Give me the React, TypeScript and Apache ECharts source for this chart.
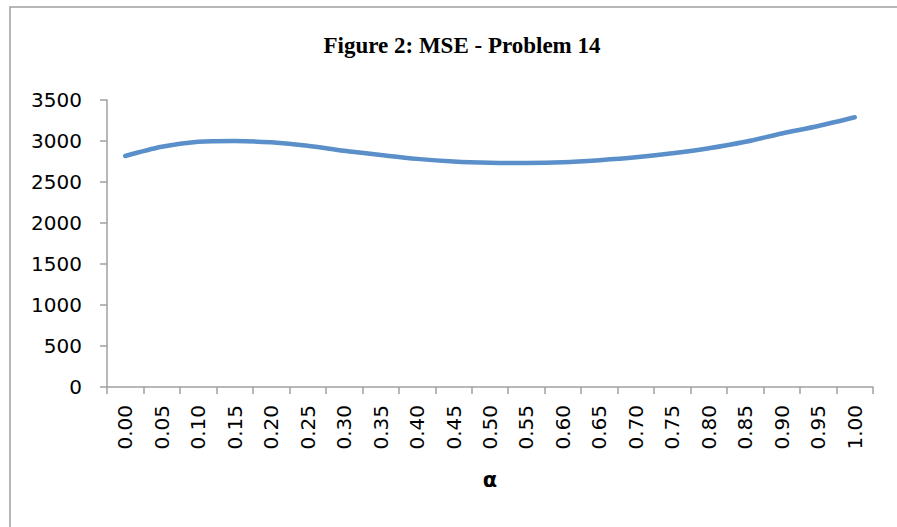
import React, { useEffect, useRef } from "react";
import * as echarts from "echarts";

const titleText = "Figure 2: MSE - Problem 14";
const xName = "α";
const categories = [
  "0.00", "0.05", "0.10", "0.15", "0.20", "0.25", "0.30", "0.35", "0.40", "0.45", "0.50",
  "0.55", "0.60", "0.65", "0.70", "0.75", "0.80", "0.85", "0.90", "0.95", "1.00",
];
const mseValues = [
  2817, 2930, 2990, 3000, 2984, 2943, 2880, 2829, 2782, 2750, 2735,
  2732, 2740, 2766, 2801, 2850, 2911, 2990, 3092, 3183, 3289,
];
const yTicks = { min: 0, max: 3500, interval: 500 };

export default function App() {
  const ref = useRef<HTMLDivElement>(null);
  useEffect(() => {
    if (!ref.current) return;
    const chart = echarts.init(ref.current, null, { renderer: "svg" });
    const axisGray = "#a0a0a0";
    chart.setOption({
      animation: false,
      backgroundColor: "#ffffff",
      title: {
        text: titleText,
        left: 457,
        top: 29,
        textAlign: "center",
        textStyle: {
          fontFamily: "Liberation Serif",
          fontWeight: "bold",
          fontSize: 23,
          color: "#000",
        },
      },
      graphic: [
        {
          type: "rect",
          shape: { x: 10, y: 7, width: 1000, height: 600 },
          style: { fill: "none", stroke: "#a0a0a0", lineWidth: 1.5 },
          silent: true,
        },
      ],
      grid: { left: 107, right: 24, top: 100, bottom: 140, containLabel: false },
      xAxis: {
        type: "category",
        data: categories,
        boundaryGap: true,
        name: xName,
        nameLocation: "middle",
        nameGap: 82,
        nameTextStyle: {
          fontFamily: "DejaVu Sans",
          fontWeight: "bold",
          fontSize: 21,
          color: "#000",
        },
        axisLine: { lineStyle: { color: axisGray, width: 1.5 } },
        axisTick: { show: true, alignWithLabel: false, length: 7, lineStyle: { color: axisGray, width: 1.5 } },
        axisLabel: {
          rotate: 90,
          margin: 18,
          interval: 0,
          fontFamily: "DejaVu Sans",
          fontSize: 20,
          color: "#000",
        },
        splitLine: { show: false },
      },
      yAxis: {
        type: "value",
        min: yTicks.min,
        max: yTicks.max,
        interval: yTicks.interval,
        axisLine: { show: true, lineStyle: { color: axisGray, width: 1.5 } },
        axisTick: { show: true, length: 7, lineStyle: { color: axisGray, width: 1.5 } },
        axisLabel: {
          margin: 25,
          fontFamily: "DejaVu Sans",
          fontSize: 20,
          color: "#000",
          formatter: (v: number) => String(v),
        },
        splitLine: { show: false },
      },
      series: [
        {
          type: "line",
          data: mseValues,
          smooth: 0.3,
          showSymbol: false,
          lineStyle: { color: "#5a8fc9", width: 4.5, cap: "round" },
        },
      ],
    });
    return () => chart.dispose();
  }, []);
  return (
    <div
      ref={ref}
      style={{ position: "fixed", left: 0, top: 0, width: 897, height: 527 }}
    />
  );
}
